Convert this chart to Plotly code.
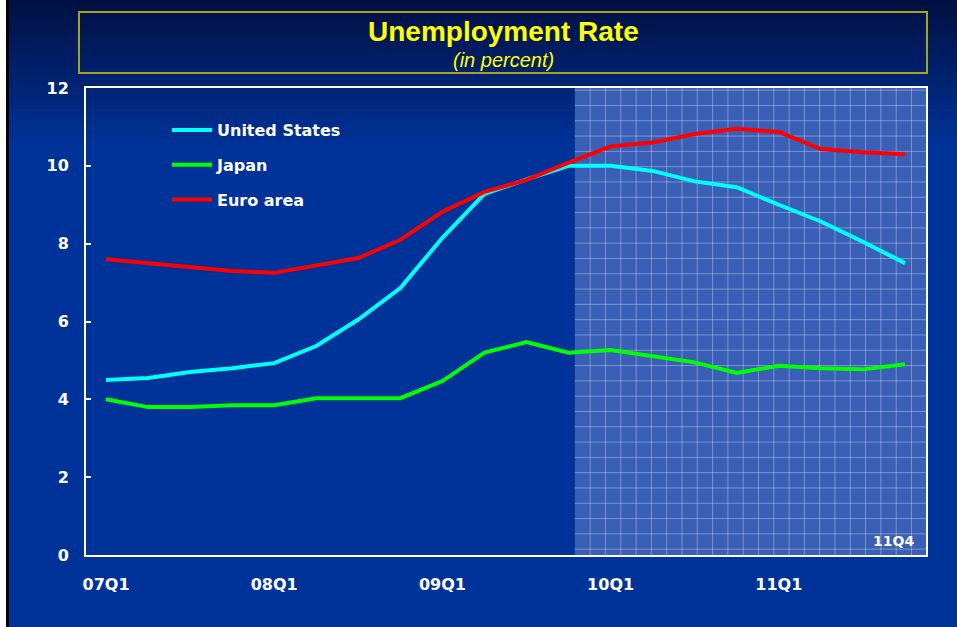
import plotly.graph_objects as go

# Quarterly unemployment rates, 2007Q1-2011Q4 (percent)
quarters = ["07Q1", "07Q2", "07Q3", "07Q4", "08Q1", "08Q2", "08Q3", "08Q4",
            "09Q1", "09Q2", "09Q3", "09Q4", "10Q1", "10Q2", "10Q3", "10Q4",
            "11Q1", "11Q2", "11Q3", "11Q4"]
united_states = [4.50, 4.55, 4.70, 4.80, 4.93, 5.37, 6.05, 6.86,
                 8.15, 9.28, 9.65, 10.00, 10.00, 9.87, 9.60, 9.45,
                 9.00, 8.57, 8.05, 7.50]
japan = [4.00, 3.80, 3.80, 3.85, 3.85, 4.03, 4.03, 4.03,
         4.47, 5.20, 5.47, 5.20, 5.27, 5.10, 4.95, 4.68,
         4.86, 4.80, 4.77, 4.90]
euro_area = [7.60, 7.50, 7.40, 7.30, 7.25, 7.43, 7.63, 8.10,
             8.82, 9.33, 9.64, 10.08, 10.50, 10.60, 10.82, 10.95,
             10.87, 10.43, 10.35, 10.30]

x_tick_labels = ["07Q1", "08Q1", "09Q1", "10Q1", "11Q1"]
y_tick_values = [0, 2, 4, 6, 8, 10, 12]
projection_start = 11.15          # shaded projection period begins just after 09Q4
end_label = "11Q4"

W, H = 957, 627
L, R, T, B = 86, 31, 88, 72
PW, PH = W - L - R, H - T - B
X_RANGE = [-0.476, 19.5]
Y_RANGE = [0, 12]


def px_x(p):
    return (p - L) / PW


def px_y(p):
    return (H - B - p) / PH


label_font = dict(family="DejaVu Sans", size=16, color="white")

fig = go.Figure()
series = [("United States", united_states, "#00ffff"),
          ("Japan", japan, "#00ff00"),
          ("Euro area", euro_area, "#ff0000")]
for name, vals, col in series:
    fig.add_trace(go.Scatter(
        x=quarters, y=vals, name=f"<b>{name}</b>", mode="lines",
        line=dict(color=col, width=4), legendgroup=name, hoverinfo="skip"))

shapes = []

# background: dark band at the top fading into the royal blue page
top_rgb, base_rgb = (0, 16, 66), (0, 51, 153)
n_bands = 40
band_end = 150
for i in range(n_bands):
    t = i / (n_bands - 1)
    c = tuple(round(a + (b - a) * t) for a, b in zip(top_rgb, base_rgb))
    y0p = band_end * i / n_bands
    y1p = band_end * (i + 1) / n_bands + 1
    shapes.append(dict(type="rect", xref="paper", yref="paper", layer="below",
                       x0=px_x(0), x1=px_x(W), y0=px_y(y1p), y1=px_y(y0p),
                       fillcolor=f"rgb{c}", line_width=0))

# page edge on the left
shapes.append(dict(type="rect", xref="paper", yref="paper", layer="above",
                   x0=px_x(0), x1=px_x(6), y0=px_y(H), y1=px_y(0),
                   fillcolor="white", line_width=0))
shapes.append(dict(type="rect", xref="paper", yref="paper", layer="above",
                   x0=px_x(6), x1=px_x(9), y0=px_y(H), y1=px_y(0),
                   fillcolor="black", line_width=0))

# title frame
shapes.append(dict(type="rect", xref="paper", yref="paper", layer="above",
                   x0=px_x(79), x1=px_x(927), y0=px_y(73), y1=px_y(12),
                   fillcolor="rgba(0,0,0,0)", line=dict(color="#a3a326", width=2)))

# projection period: lighter panel with a fine grid
shapes.append(dict(type="rect", xref="x", yref="y", layer="below",
                   x0=projection_start, x1=X_RANGE[1], y0=Y_RANGE[0], y1=Y_RANGE[1],
                   fillcolor="#3a5fb6", line_width=0))
x_scale = PW / (X_RANGE[1] - X_RANGE[0])
y_scale = PH / (Y_RANGE[1] - Y_RANGE[0])
grid_px = 15.3
path = []
gx = projection_start + grid_px / x_scale
while gx < X_RANGE[1] - 0.05:
    path.append(f"M{gx},{Y_RANGE[0]}L{gx},{Y_RANGE[1]}")
    gx += grid_px / x_scale
gy = 0.15
while gy < Y_RANGE[1] - 0.05:
    path.append(f"M{projection_start},{gy}L{X_RANGE[1]},{gy}")
    gy += grid_px / y_scale
shapes.append(dict(type="path", xref="x", yref="y", layer="below",
                   path="".join(path), line=dict(color="rgba(255,255,255,0.33)", width=1)))

annotations = [
    dict(text="<b>Unemployment Rate</b>", xref="paper", yref="paper",
         x=px_x(503), y=px_y(32), xanchor="center", yanchor="middle", showarrow=False,
         font=dict(family="Liberation Sans", size=28, color="#ffff00")),
    dict(text="<i>(in percent)</i>", xref="paper", yref="paper",
         x=px_x(503), y=px_y(60), xanchor="center", yanchor="middle", showarrow=False,
         font=dict(family="Liberation Sans", size=20, color="#ffff00")),
    dict(text=f"<b>{end_label}</b>", xref="paper", yref="paper",
         x=px_x(916), y=px_y(541), xanchor="right", yanchor="middle", showarrow=False,
         font=dict(family="DejaVu Sans", size=14, color="white")),
]

fig.update_layout(
    width=W, height=H,
    margin=dict(l=L, r=R, t=T, b=B, pad=0),
    paper_bgcolor="#003399",
    plot_bgcolor="rgba(0,0,0,0)",
    shapes=shapes,
    annotations=annotations,
    showlegend=True,
    legend=dict(x=px_x(167), y=px_y(113), xanchor="left", yanchor="top",
                bgcolor="rgba(0,0,0,0)", font=label_font,
                traceorder="grouped", tracegroupgap=11, itemwidth=40),
    xaxis=dict(type="category", range=X_RANGE, tickmode="array",
               tickvals=x_tick_labels, ticktext=[f"<b>{t}</b>" for t in x_tick_labels],
               showgrid=False, zeroline=False, showline=True, mirror=True,
               linecolor="white", linewidth=2, ticks="", ticklabelstandoff=14,
               tickfont=label_font, fixedrange=True),
    yaxis=dict(range=Y_RANGE, tickmode="array", tickvals=y_tick_values,
               ticktext=[f"<b>{v}</b>" for v in y_tick_values],
               showgrid=False, zeroline=False, showline=True, mirror=True,
               linecolor="white", linewidth=2, ticks="inside", ticklen=5,
               tickcolor="white", tickwidth=1.5, ticklabelstandoff=12,
               tickfont=label_font, fixedrange=True),
)

fig.write_html("out.html")
